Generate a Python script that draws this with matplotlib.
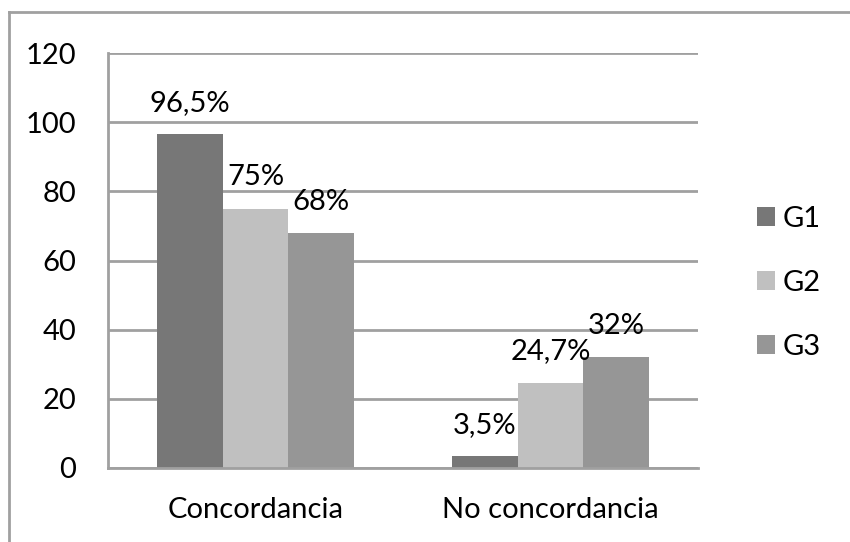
import matplotlib
matplotlib.use("Agg")
import matplotlib.pyplot as plt
from matplotlib.lines import Line2D
from matplotlib.patches import Patch
import numpy as np

categories = ["Concordancia", "No concordancia"]
series_names = ["G1", "G2", "G3"]
g1_values = [96.5, 3.5]
g2_values = [75, 24.7]
g3_values = [68, 32]
value_labels = [["96,5%", "3,5%"], ["75%", "24,7%"], ["68%", "32%"]]
y_ticks = [0, 20, 40, 60, 80, 100, 120]

colors = ["#777777", "#c0c0c0", "#969696"]
grid_color = "#a0a0a0"
FS = 21

plt.rcParams["font.family"] = ["Lato", "DejaVu Sans"]

fig = plt.figure(figsize=(8.5, 5.42), dpi=100)
W, H = 850, 542
ax = fig.add_axes([108 / W, (H - 468) / H, (698 - 108) / W, (468 - 53) / H])

x = np.arange(len(categories))
width = 0.222
all_values = [g1_values, g2_values, g3_values]
for i, (vals, col) in enumerate(zip(all_values, colors)):
    pos = x + (i - 1) * width
    ax.bar(pos, vals, width=width, color=col, zorder=3, linewidth=0)
    for px, v, lab in zip(pos, vals, value_labels[i]):
        ax.annotate(lab, (px, v), xytext=(0, 22.5), textcoords="offset points",
                    ha="center", va="center", fontsize=FS, color="#000000", zorder=4)

ax.set_xlim(-0.5, 1.5)
ax.set_ylim(0, 120)
ax.set_yticks(y_ticks)
ax.set_xticks(x)
ax.set_xticklabels(categories)
ax.tick_params(axis="both", length=0, labelsize=FS, colors="#000000")
ax.tick_params(axis="y", pad=23)
ax.tick_params(axis="x", pad=21)
ax.yaxis.grid(True, color=grid_color, linewidth=2, zorder=0)
for s in ["top", "right"]:
    ax.spines[s].set_visible(False)
ax.spines["left"].set_color(grid_color)
ax.spines["left"].set_linewidth(2)
ax.spines["bottom"].set_color(grid_color)
ax.spines["bottom"].set_linewidth(2)
ax.spines["bottom"].set_zorder(5)

handles = [Patch(facecolor=c, edgecolor="none") for c in colors]
fig.legend(handles, series_names, loc="center left",
           bbox_to_anchor=(757 / W, (H - 283) / H), frameon=False,
           fontsize=FS, handlelength=0.62, handleheight=0.62,
           handletextpad=0.25, labelspacing=1.3, borderpad=0,
           borderaxespad=0)

# outer chart frame (top and left edges)
fig.add_artist(Line2D([9 / W, 1.0], [(H - 12) / H, (H - 12) / H],
                      transform=fig.transFigure, color=grid_color, linewidth=2))
fig.add_artist(Line2D([9 / W, 9 / W], [0.0, (H - 12) / H],
                      transform=fig.transFigure, color=grid_color, linewidth=2))

fig.savefig("out.png", dpi=100, facecolor="white")
